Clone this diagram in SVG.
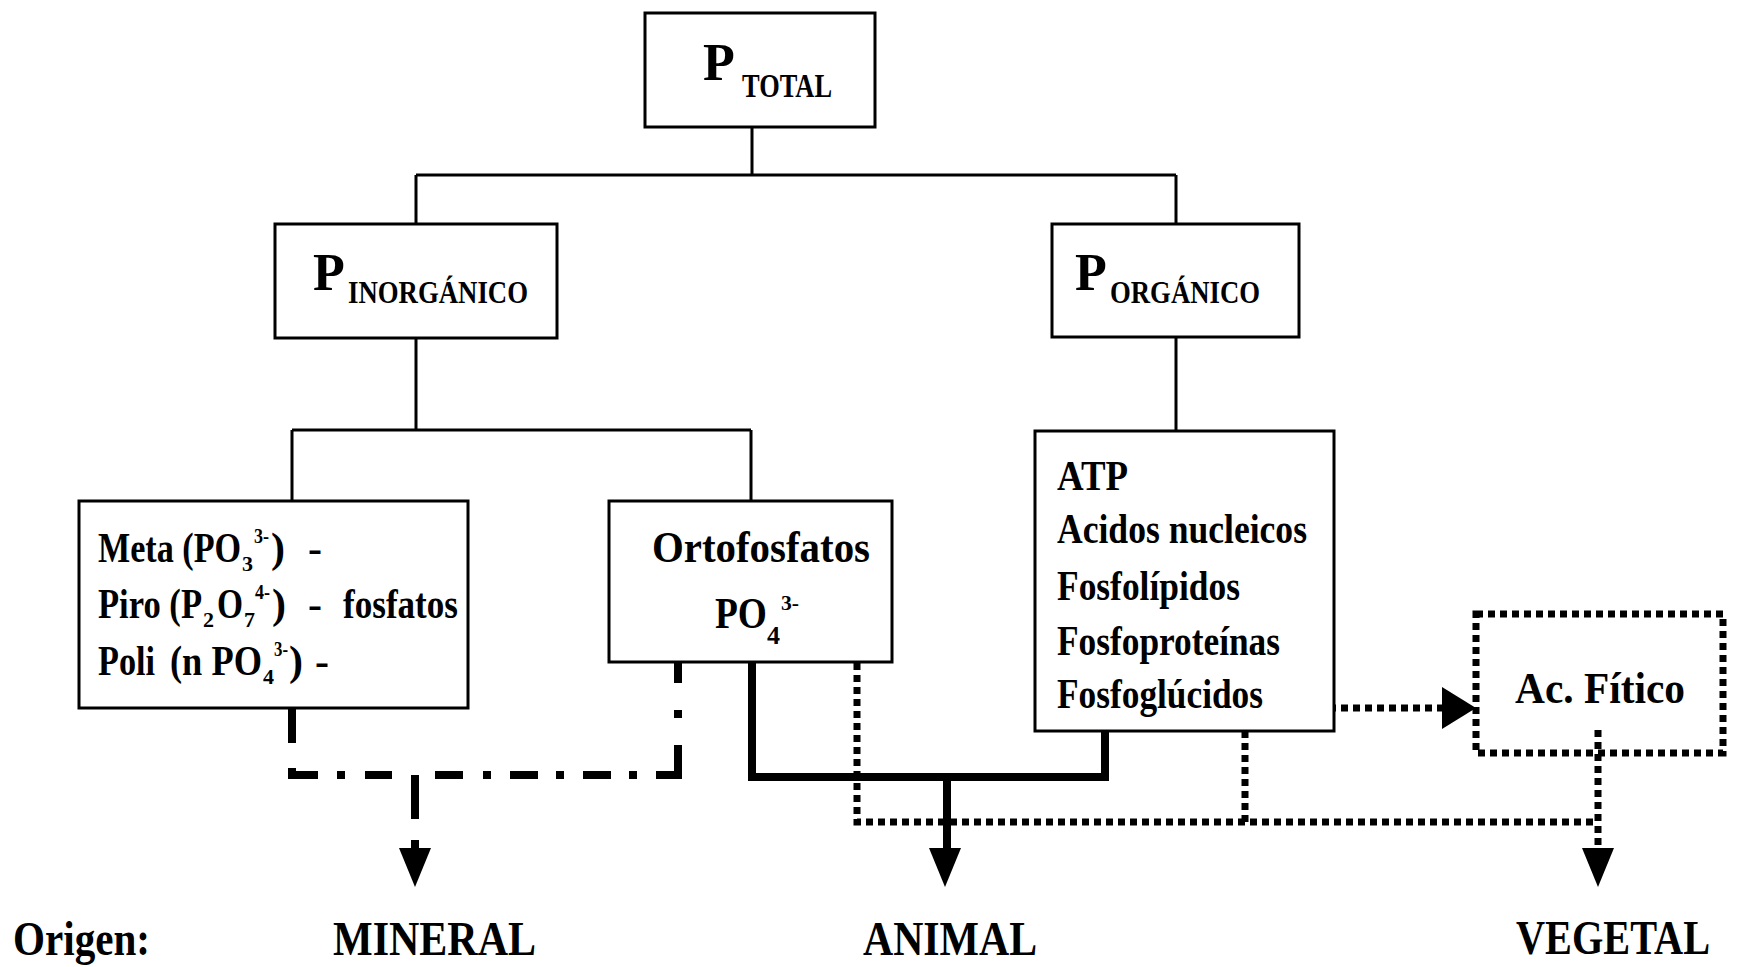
<svg xmlns="http://www.w3.org/2000/svg" width="1739" height="967" viewBox="0 0 1739 967">
<style>
.box{fill:#fff;stroke:#000;stroke-width:3}
.dbox{fill:none;stroke:#000;stroke-width:7;stroke-dasharray:7 5}
.thin{fill:none;stroke:#000;stroke-width:3}
.thick{fill:none;stroke:#000;stroke-width:8}
.dd{fill:none;stroke:#000;stroke-width:8;stroke-linecap:butt}
.dot{fill:none;stroke:#000;stroke-width:7;stroke-dasharray:7 5}
.t{font-family:"Liberation Serif","Times New Roman",serif;font-weight:bold;fill:#000}
.s{font-size:22px}
</style>
<g id="connectors">
<path class="thin" d="M752 128V175M416 175H1176M416 175V224M1176 175V224M416 338V430M292 430H751M292 430V501M751 430V501M1176 337V431"/>
<path class="thick" d="M752 662V777H1105V731M947 777V850"/>
<polygon points="929,848 961,848 945,887" fill="#000"/>
<path class="dd" d="M292 708V743M292 768V775H318M337 775H345M365 775H392M435 775H463M483 775H491M510 775H538M556 775H564M583 775H611M629 775H637M656 775H678V745M678 718V710M678 683V662"/>
<path class="dd" d="M415 775V819M415 840V852" stroke-width="7"/>
<polygon points="399,848 431,848 415,887" fill="#000"/>
<path class="dot" d="M857 663V822H1598M1245 731V822M1598 730V850M1281 708H1444"/>
<polygon points="1442,687 1476,708 1442,729" fill="#000"/>
<polygon points="1582,848 1614,848 1598,887" fill="#000"/>
</g>
<g id="ptotal">
<rect class="box" x="645" y="13" width="230" height="114"/>
<text class="t" font-size="52"><tspan x="703" y="80">P</tspan><tspan x="742" y="97" font-size="34" textLength="90" lengthAdjust="spacingAndGlyphs">TOTAL</tspan></text>
</g>
<g id="pinorg">
<rect class="box" x="275" y="224" width="282" height="114"/>
<text class="t" font-size="52"><tspan x="313" y="290">P</tspan><tspan x="348" y="303" font-size="32" textLength="180" lengthAdjust="spacingAndGlyphs">INORGÁNICO</tspan></text>
</g>
<g id="porg">
<rect class="box" x="1052" y="224" width="247" height="113"/>
<text class="t" font-size="52"><tspan x="1075" y="290">P</tspan><tspan x="1110" y="303" font-size="32" textLength="150" lengthAdjust="spacingAndGlyphs">ORGÁNICO</tspan></text>
</g>
<g id="meta">
<rect class="box" x="79" y="501" width="389" height="207"/>
<text class="t" font-size="42"><tspan x="98" y="562" textLength="143" lengthAdjust="spacingAndGlyphs">Meta (PO</tspan><tspan class="s" x="242" y="571">3</tspan><tspan class="s" x="254" y="543" textLength="15" lengthAdjust="spacingAndGlyphs">3-</tspan><tspan x="271" y="562">)</tspan><tspan x="308" y="562">-</tspan></text>
<text class="t" font-size="42"><tspan x="98" y="618" textLength="104" lengthAdjust="spacingAndGlyphs">Piro (P</tspan><tspan class="s" x="203" y="627">2</tspan><tspan x="217" y="618" textLength="26" lengthAdjust="spacingAndGlyphs">O</tspan><tspan class="s" x="244" y="627">7</tspan><tspan class="s" x="255" y="599" textLength="15" lengthAdjust="spacingAndGlyphs">4-</tspan><tspan x="272" y="618">)</tspan><tspan x="308" y="618">-</tspan><tspan x="343" y="618" textLength="115" lengthAdjust="spacingAndGlyphs">fosfatos</tspan></text>
<text class="t" font-size="42"><tspan x="98" y="675" textLength="57" lengthAdjust="spacingAndGlyphs">Poli</tspan><tspan x="170" y="675" textLength="92" lengthAdjust="spacingAndGlyphs">(n PO</tspan><tspan class="s" x="263" y="684">4</tspan><tspan class="s" x="274" y="656" textLength="14" lengthAdjust="spacingAndGlyphs">3-</tspan><tspan x="289" y="675">)</tspan><tspan x="315" y="675">-</tspan></text>
</g>
<g id="orto">
<rect class="box" x="609" y="501" width="283" height="161"/>
<text class="t" x="652" y="562" font-size="44" textLength="218" lengthAdjust="spacingAndGlyphs">Ortofosfatos</text>
<text class="t" font-size="44"><tspan x="715" y="628" textLength="52" lengthAdjust="spacingAndGlyphs">PO</tspan><tspan x="767" y="644" font-size="26">4</tspan><tspan x="781" y="610" font-size="22" textLength="18" lengthAdjust="spacingAndGlyphs">3-</tspan></text>
</g>
<g id="organicos">
<rect class="box" x="1035" y="431" width="299" height="300"/>
<text class="t" x="1057" y="490" font-size="42" textLength="71" lengthAdjust="spacingAndGlyphs">ATP</text>
<text class="t" x="1057" y="543" font-size="42" textLength="250" lengthAdjust="spacingAndGlyphs">Acidos nucleicos</text>
<text class="t" x="1057" y="600" font-size="42" textLength="183" lengthAdjust="spacingAndGlyphs">Fosfolípidos</text>
<text class="t" x="1057" y="655" font-size="42" textLength="223" lengthAdjust="spacingAndGlyphs">Fosfoproteínas</text>
<text class="t" x="1057" y="708" font-size="42" textLength="206" lengthAdjust="spacingAndGlyphs">Fosfoglúcidos</text>
</g>
<g id="fitico">
<rect class="dbox" x="1476" y="614" width="247" height="139"/>
<text class="t" x="1515" y="703" font-size="44" textLength="170" lengthAdjust="spacingAndGlyphs">Ac. Fítico</text>
</g>
<g id="origen">
<text class="t" x="13" y="955" font-size="48" textLength="137" lengthAdjust="spacingAndGlyphs">Origen:</text>
<text class="t" x="333" y="955" font-size="48" textLength="203" lengthAdjust="spacingAndGlyphs">MINERAL</text>
<text class="t" x="863" y="955" font-size="48" textLength="174" lengthAdjust="spacingAndGlyphs">ANIMAL</text>
<text class="t" transform="translate(1516 954) scale(0.84 1)" x="0" y="0" font-size="48">VEGETAL</text>
</g>
</svg>
